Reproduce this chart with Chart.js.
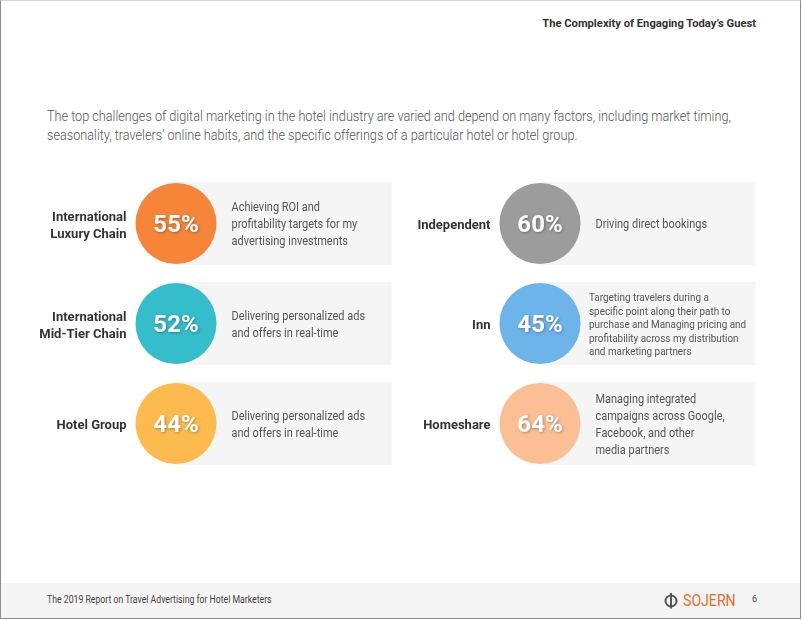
<!DOCTYPE html>
<html>
<head>
<meta charset="utf-8">
<script src="https://cdn.jsdelivr.net/npm/chart.js@4"></script>
<style>
  html, body { margin: 0; padding: 0; background: #fff; }
  body { width: 802px; height: 620px; position: relative; overflow: hidden; font-family: Roboto, "Noto Sans", sans-serif; }
  .page { position: absolute; left: 0; top: 0; width: 799px; height: 617px; border: 1px solid #8c8c8c; border-top-color: #d6d6d6; }
  .title { position: absolute; right: 46px; top: 17px; font-size: 11.2px; font-weight: bold; color: #333; }
  .intro { position: absolute; left: 47px; top: 107px; width: 800px; font-size: 14px; font-weight: 300; line-height: 19px; color: #555; transform: scaleX(0.905); transform-origin: left top; }
  .footer { position: absolute; left: 1px; top: 583px; width: 799px; height: 35px; background: #f5f5f5; }
  .footer .src { position: absolute; left: 46px; top: 11px; font-size: 10px; color: #444; transform: scaleX(0.87); transform-origin: left top; white-space: nowrap; }
  .footer .logo { position: absolute; left: 682px; top: 7px; font-size: 17px; color: #e8692c; transform: scaleX(0.83); transform-origin: left top; }
  .footer .icon { position: absolute; left: 662px; top: 9px; }
  .footer .num { position: absolute; left: 751px; top: 11px; font-size: 9px; color: #444; }
  #chart { position: absolute; left: 0; top: 170px; }
</style>
</head>
<body>
<div class="page"></div>
<div class="title">The Complexity of Engaging Today’s Guest</div>
<div class="intro">The top challenges of digital marketing in the hotel industry are varied and depend on many factors, including market timing,<br>seasonality, travelers’ online habits, and the specific offerings of a particular hotel or hotel group.</div>
<canvas id="chart" width="802" height="310"></canvas>
<div class="footer">
  <div class="src">The 2019 Report on Travel Advertising for Hotel Marketers</div>
  <svg class="icon" width="16" height="17" viewBox="0 0 16 17">
    <circle cx="8" cy="9" r="5.5" fill="none" stroke="#555" stroke-width="2"/>
    <line x1="8" y1="1" x2="8" y2="16.5" stroke="#555" stroke-width="2"/>
  </svg>
  <div class="logo">SOJERN</div>
  <div class="num">6</div>
</div>
<script>
// Data (left column top to bottom, then right column)
const segments = [
  ['International', 'Luxury Chain'],
  ['International', 'Mid-Tier Chain'],
  ['Hotel Group'],
  ['Independent'],
  ['Inn'],
  ['Homeshare']
];
const shares = [55, 52, 44, 60, 45, 64];
const challenges = [
  ['Achieving ROI and', 'profitability targets for my', 'advertising investments'],
  ['Delivering personalized ads', 'and offers in real-time'],
  ['Delivering personalized ads', 'and offers in real-time'],
  ['Driving direct bookings'],
  ['Targeting travelers during a', 'specific point along their path to', 'purchase and Managing pricing and', 'profitability across my distribution', 'and marketing partners'],
  ['Managing integrated', 'campaigns across Google,', 'Facebook, and other', 'media partners']
];
const colors = ['#f6853a', '#35bdcb', '#fdbb4f', '#9c9c9c', '#6db4ea', '#fcbf95'];

const ROWS = 3;
const R = 40.5;

// Gray panels, labels, percentages and descriptions around each point
const cardPlugin = {
  id: 'cards',
  beforeDatasetsDraw(chart) {
    const ctx = chart.ctx;
    const meta = chart.getDatasetMeta(0);
    ctx.save();
    ctx.fillStyle = '#f5f5f5';
    meta.data.forEach(pt => {
      ctx.fillRect(pt.x, pt.y - 41.5, 215.5, 83);
    });
    ctx.restore();
  },
  afterDatasetsDraw(chart) {
    const ctx = chart.ctx;
    const meta = chart.getDatasetMeta(0);
    ctx.save();
    meta.data.forEach((pt, i) => {
      // segment label
      ctx.fillStyle = '#333';
      ctx.font = 'bold 13px Roboto';
      ctx.textAlign = 'right';
      ctx.textBaseline = 'middle';
      const lab = segments[i];
      lab.forEach((t, j) => {
        ctx.fillText(t, pt.x - R - 9, pt.y + 2.5 + (j - (lab.length - 1) / 2) * 17);
      });

      // percentage
      ctx.save();
      ctx.shadowColor = 'rgba(0,0,0,0.3)';
      ctx.shadowBlur = 3;
      ctx.shadowOffsetX = 1;
      ctx.shadowOffsetY = 1;
      ctx.fillStyle = '#fff';
      ctx.font = 'bold 24px Roboto';
      ctx.textAlign = 'center';
      ctx.fillText(shares[i] + '%', pt.x, pt.y + 2.5);
      ctx.restore();

      // description (slightly condensed like the source type)
      const lines = challenges[i];
      const small = lines.length > 4;
      ctx.fillStyle = '#555';
      ctx.font = (small ? '11px' : '12.2px') + ' Roboto';
      ctx.textAlign = 'left';
      const lh = small ? 13.5 : 17;
      lines.forEach((t, j) => {
        ctx.save();
        ctx.translate(pt.x + (small ? 49 : 55.5), pt.y + 1.8 + (j - (lines.length - 1) / 2) * lh);
        ctx.scale(0.9, 1);
        ctx.fillText(t, 0, 0);
        ctx.restore();
      });
    });
    ctx.restore();
  }
};

new Chart(document.getElementById('chart'), {
  type: 'scatter',
  data: {
    datasets: [{
      data: shares.map((v, i) => ({ x: Math.floor(i / ROWS), y: i % ROWS })),
      backgroundColor: colors,
      borderWidth: 0,
      pointRadius: R,
      pointHoverRadius: R,
      clip: false
    }]
  },
  options: {
    responsive: false,
    animation: false,
    devicePixelRatio: 1,
    layout: { padding: 0, autoPadding: false },
    plugins: { legend: { display: false }, tooltip: { enabled: false } },
    events: [],
    scales: {
      x: { type: 'linear', display: false, min: -176 / 364, max: (802 - 176) / 364 },
      y: { type: 'linear', display: false, reverse: true, min: -0.535, max: 3.1 - 0.535 }
    }
  },
  plugins: [cardPlugin]
});
</script>
</body>
</html>
